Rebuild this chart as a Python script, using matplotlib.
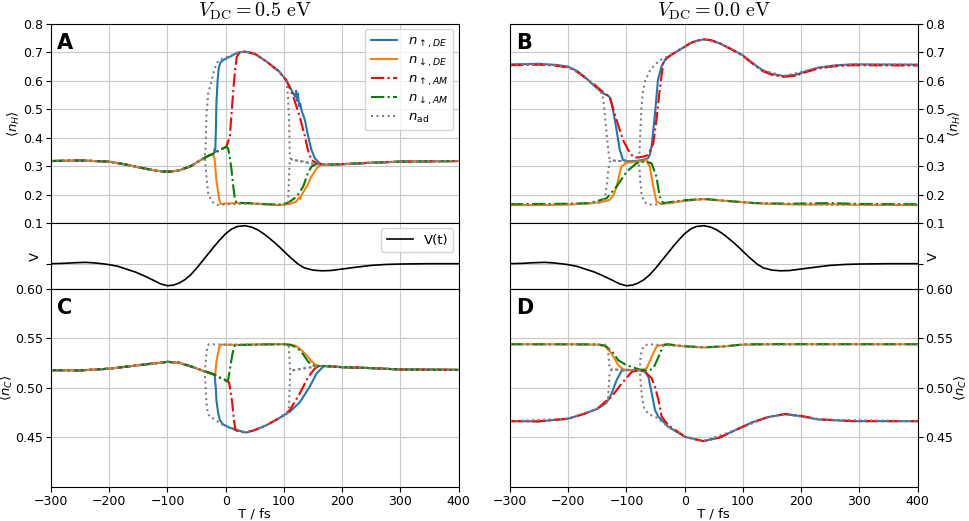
import numpy as np
import matplotlib
matplotlib.use('Agg')
import matplotlib.pyplot as plt

# ---------------- data ----------------
# time axis in fs, values as (T, value) pairs

# panel A : <n_H>, V_DC = 0.5 eV
A_pre = [(-300, 0.318), (-250, 0.320), (-200, 0.316), (-170, 0.305), (-140, 0.292), (-120, 0.284),
         (-100, 0.280), (-80, 0.285), (-60, 0.300), (-40, 0.325), (-30, 0.336)]
A_post = [(170, 0.305), (200, 0.307), (250, 0.312), (300, 0.316), (400, 0.318)]
A_up_DE = A_pre + [(-20, 0.345), (-19, 0.36), (-18, 0.35), (-17, 0.42), (-16, 0.52), (-14, 0.60), (-12, 0.645),
                   (-9, 0.665), (-5, 0.672), (0, 0.678), (10, 0.688), (20, 0.699), (33, 0.703), (50, 0.695),
                   (70, 0.668), (90, 0.637), (100, 0.612), (110, 0.58), (116, 0.555), (119, 0.545), (121, 0.565),
                   (122, 0.53), (124, 0.555), (126, 0.51), (128, 0.52), (130, 0.497), (136, 0.462), (141, 0.41),
                   (147, 0.358), (153, 0.328), (161, 0.31)] + A_post
A_dn_DE = A_pre + [(-22, 0.343), (-19, 0.325), (-16, 0.25), (-11, 0.181), (-9, 0.167), (0, 0.168), (20, 0.170),
                   (40, 0.169), (70, 0.166), (90, 0.163), (100, 0.165), (110, 0.167), (121, 0.175), (126, 0.19),
                   (128, 0.185), (130, 0.198), (139, 0.228), (147, 0.263), (156, 0.292), (164, 0.306)] + A_post
A_up_AM = A_pre + [(-20, 0.345), (-10, 0.357), (1, 0.368), (7, 0.404), (10, 0.486), (13, 0.568), (16, 0.638),
                   (19, 0.685), (24, 0.700), (33, 0.703), (50, 0.695), (70, 0.668), (90, 0.635), (104, 0.603),
                   (116, 0.544), (127, 0.474), (136, 0.404), (141, 0.357), (147, 0.322), (156, 0.310),
                   (165, 0.306)] + A_post
A_dn_AM = A_pre + [(-20, 0.345), (-10, 0.357), (1, 0.368), (4, 0.363), (7, 0.333), (10, 0.286), (13, 0.228),
                   (16, 0.181), (19, 0.171), (40, 0.170), (70, 0.166), (95, 0.165), (105, 0.170), (112, 0.178),
                   (122, 0.193), (133, 0.228), (141, 0.275), (147, 0.298), (156, 0.308), (165, 0.306)] + A_post
A_ad_hi = A_pre[:-1] + [(-36, 0.332), (-34.5, 0.37), (-33, 0.486), (-30, 0.556), (-24, 0.603), (-20, 0.635),
                        (-16, 0.662), (-10, 0.675), (0, 0.682), (10, 0.690), (20, 0.699), (33, 0.703), (50, 0.695),
                        (70, 0.668), (90, 0.636), (100, 0.615), (104, 0.603), (107, 0.544), (109, 0.45),
                        (110, 0.333), (112, 0.325), (116, 0.322), (133, 0.316), (150, 0.308)] + A_post
A_ad_lo = A_pre[:-1] + [(-36, 0.332), (-34.5, 0.30), (-33, 0.26), (-30, 0.204), (-24, 0.175), (-13, 0.163),
                        (0, 0.166), (40, 0.168), (70, 0.165), (95, 0.163), (104, 0.165), (107, 0.172), (108, 0.22),
                        (109, 0.28), (110, 0.32), (112, 0.325), (116, 0.322), (133, 0.316), (150, 0.308)] + A_post

# panel C : <n_C>, V_DC = 0.5 eV
C_pre = [(-300, 0.518), (-250, 0.5178), (-200, 0.5195), (-150, 0.523), (-100, 0.5264), (-80, 0.5255),
         (-57, 0.5213), (-40, 0.5175), (-33, 0.5163)]
C_post = [(170, 0.5222), (200, 0.521), (240, 0.5203), (300, 0.5187), (400, 0.5183)]
C_up_DE = C_pre + [(-19, 0.513), (-17, 0.50), (-16, 0.4877), (-13, 0.475), (-10, 0.4675), (-5, 0.4635),
                   (1, 0.4614), (15, 0.458), (35, 0.455), (50, 0.4575), (70, 0.4624), (93, 0.470), (110, 0.476),
                   (127, 0.4855), (144, 0.5011), (156, 0.5146), (163, 0.519), (167, 0.5213)] + C_post
C_dn_DE = C_pre + [(-19, 0.513), (-18, 0.5146), (-16, 0.5264), (-11, 0.5415), (-7, 0.5439), (20, 0.5435),
                   (60, 0.5440), (100, 0.5442), (112, 0.5437), (121, 0.5425), (130, 0.538), (139, 0.533),
                   (147, 0.527), (156, 0.523), (162, 0.5222)] + C_post
C_up_AM = C_pre + [(-19, 0.5135), (-10, 0.5105), (-4, 0.5096), (1, 0.507), (5.5, 0.506), (8, 0.498),
                   (11.3, 0.4843), (14, 0.4675), (17, 0.4574), (25, 0.4555), (35, 0.455), (50, 0.4575),
                   (70, 0.4624), (93, 0.470), (110, 0.4776), (127, 0.4944), (141.5, 0.5112), (153, 0.5197),
                   (160, 0.5222)] + C_post
C_dn_AM = C_pre + [(-19, 0.5135), (-10, 0.5105), (-4, 0.5096), (1, 0.507), (4, 0.508), (7, 0.518),
                   (11.6, 0.5348), (15.7, 0.5432), (30, 0.5435), (60, 0.5440), (100, 0.5442), (112, 0.5435),
                   (124, 0.540), (133, 0.534), (141, 0.527), (147, 0.5235), (153, 0.5222), (162, 0.5222)] + C_post
C_ad_hi = C_pre[:-1] + [(-36, 0.5165), (-34.5, 0.525), (-33, 0.536), (-31, 0.5425), (-29, 0.5442), (0, 0.5438),
                        (50, 0.5440), (100, 0.5442), (108, 0.5442), (109.5, 0.53), (110.5, 0.518), (116, 0.518),
                        (139, 0.5203), (161, 0.5222)] + C_post
C_ad_lo = C_pre[:-1] + [(-36, 0.5165), (-34.5, 0.50), (-33, 0.485), (-31, 0.475), (-27, 0.4705), (-21, 0.469),
                        (-13, 0.4658), (-8, 0.4635), (1, 0.4614), (35, 0.455), (70, 0.4624), (93, 0.470),
                        (105, 0.4745), (108, 0.476), (109.5, 0.495), (110.5, 0.515), (116, 0.518), (139, 0.5203),
                        (161, 0.5222)] + C_post

# panel B : <n_H>, V_DC = 0.0 eV
B_up_DE = [(-300, 0.658), (-250, 0.660), (-220, 0.656), (-200, 0.650), (-185, 0.635), (-172, 0.615), (-154, 0.58),
           (-140, 0.556), (-131, 0.547), (-128, 0.54), (-125, 0.515), (-123, 0.497), (-117, 0.427),
           (-111.5, 0.357), (-106, 0.322), (-97, 0.317), (-80, 0.319), (-71.5, 0.322), (-63, 0.328), (-60, 0.34),
           (-57, 0.368), (-51.5, 0.474), (-46, 0.603), (-40, 0.65), (-34, 0.673), (-25, 0.69), (-14, 0.703),
           (0, 0.72), (9, 0.732), (20, 0.741), (33, 0.746), (45, 0.743), (60, 0.732), (80, 0.712), (99, 0.691),
           (115, 0.665), (133, 0.638), (150, 0.624), (170, 0.617), (190, 0.621), (210, 0.635), (230, 0.647),
           (260, 0.655), (288, 0.658), (400, 0.657)]
B_up_AM = [(-300, 0.655), (-250, 0.657), (-220, 0.653), (-200, 0.647), (-185, 0.632), (-172, 0.612),
           (-154, 0.585), (-140, 0.56), (-129, 0.544), (-117, 0.462), (-106, 0.392), (-94, 0.345), (-86, 0.330),
           (-72, 0.333), (-63, 0.339), (-54, 0.380), (-48.6, 0.462), (-43, 0.568), (-37, 0.662), (-31.5, 0.68),
           (-14, 0.703), (0, 0.72), (9, 0.732), (20, 0.741), (33, 0.746), (45, 0.743), (60, 0.732), (80, 0.711),
           (99, 0.689), (115, 0.663), (133, 0.635), (150, 0.621), (170, 0.614), (190, 0.618), (210, 0.632),
           (230, 0.644), (260, 0.652), (288, 0.655), (400, 0.654)]
B_dn_DE = [(-300, 0.163), (-250, 0.163), (-200, 0.165), (-163, 0.169), (-140, 0.175), (-129, 0.181),
           (-122, 0.20), (-117, 0.228), (-109, 0.298), (-100, 0.312), (-72, 0.317), (-66, 0.322), (-60, 0.298),
           (-54, 0.228), (-48.6, 0.175), (-40, 0.167), (-20, 0.172), (0, 0.178), (33, 0.184), (70, 0.178),
           (120, 0.170), (150, 0.167), (200, 0.165), (250, 0.166), (300, 0.164), (400, 0.163)]
B_dn_AM = [(-300, 0.166), (-200, 0.168), (-163, 0.170), (-134, 0.187), (-117, 0.228), (-100, 0.28), (-83, 0.31),
           (-69, 0.317), (-57, 0.31), (-48.6, 0.263), (-43, 0.193), (-37, 0.170), (-20, 0.175), (0, 0.18),
           (33, 0.185), (70, 0.178), (120, 0.170), (180, 0.168), (250, 0.170), (300, 0.167), (400, 0.166)]
B_ad_hi = [(-300, 0.658), (-250, 0.660), (-200, 0.650), (-172, 0.615), (-154, 0.58), (-146, 0.565), (-141, 0.55),
           (-138, 0.50), (-134.4, 0.42), (-131.5, 0.36), (-129, 0.325), (-125, 0.320), (-105, 0.317),
           (-80, 0.318), (-77.5, 0.35), (-76, 0.43), (-74.5, 0.50), (-72, 0.56), (-68, 0.60), (-60, 0.635),
           (-50, 0.66), (-40, 0.675), (-30, 0.685), (-14, 0.703), (9, 0.732), (33, 0.746), (60, 0.732),
           (99, 0.691), (133, 0.638), (170, 0.617), (230, 0.647), (288, 0.658), (400, 0.657)]
B_ad_lo = [(-300, 0.163), (-200, 0.165), (-146, 0.172), (-141, 0.178), (-137, 0.19), (-134, 0.23),
           (-131.5, 0.28), (-129, 0.315), (-125, 0.320), (-105, 0.317), (-80, 0.318), (-77.5, 0.29), (-76, 0.24),
           (-74, 0.20), (-70, 0.175), (-62, 0.165), (-50, 0.165), (-40, 0.167), (-20, 0.172), (0, 0.178),
           (33, 0.184), (70, 0.178), (120, 0.170), (200, 0.165), (400, 0.163)]

# panel D : <n_C>, V_DC = 0.0 eV
D_dn_DE = [(-300, 0.5442), (-200, 0.5442), (-150, 0.5438), (-137, 0.5422), (-125.6, 0.5348), (-114, 0.523),
           (-105.5, 0.5187), (-90, 0.518), (-74, 0.518), (-65.4, 0.520), (-56.8, 0.5314), (-48.2, 0.5422),
           (-34, 0.5442), (0, 0.542), (33, 0.5409), (70, 0.542), (100, 0.5438), (150, 0.5442), (400, 0.5442)]
D_dn_AM = [(-300, 0.5442), (-150, 0.5440), (-137, 0.543), (-125, 0.537), (-114, 0.528), (-100, 0.523),
           (-91, 0.5213), (-79.5, 0.519), (-62.3, 0.5173), (-53.7, 0.520), (-45, 0.5315), (-36.6, 0.543),
           (-30, 0.5442), (0, 0.5422), (33, 0.5411), (70, 0.5422), (100, 0.544), (150, 0.5443), (400, 0.5442)]
D_up_DE = [(-300, 0.4665), (-250, 0.4663), (-200, 0.469), (-172, 0.474), (-150, 0.479), (-137, 0.484),
           (-130, 0.489), (-125.5, 0.4944), (-117, 0.5079), (-108.4, 0.5173), (-102.6, 0.518), (-74, 0.518),
           (-68, 0.516), (-62.3, 0.5112), (-56.6, 0.4944), (-51, 0.4776), (-45, 0.4708), (-28, 0.4607),
           (0.5, 0.4506), (32, 0.4463), (60, 0.450), (86.7, 0.4574), (115, 0.465), (144, 0.4708),
           (172.5, 0.4735), (200, 0.4715), (230, 0.4681), (290, 0.4665), (400, 0.4665)]
D_up_AM = [(-300, 0.4665), (-250, 0.4663), (-200, 0.469), (-172, 0.474), (-150, 0.479), (-137, 0.4859),
           (-125.6, 0.4911), (-108.4, 0.5045), (-91, 0.5163), (-79.5, 0.518), (-68, 0.5163), (-57, 0.510),
           (-51, 0.5011), (-45, 0.4876), (-39.5, 0.4708), (-28, 0.4624), (0.5, 0.4506), (32, 0.4463),
           (60, 0.450), (86.7, 0.4574), (115, 0.465), (144, 0.4708), (172.5, 0.4738), (200, 0.4718),
           (230, 0.4684), (290, 0.4665), (400, 0.4665)]
D_ad_hi = [(-300, 0.5442), (-150, 0.5440), (-135, 0.5435), (-132, 0.540), (-130.5, 0.53), (-129, 0.52),
           (-126, 0.5187), (-80, 0.518), (-77, 0.519), (-76, 0.53), (-74, 0.538), (-70, 0.5425), (-63, 0.5442),
           (0, 0.542), (33, 0.5409), (70, 0.542), (100, 0.5438), (400, 0.5442)]
D_ad_lo = [(-300, 0.4665), (-200, 0.469), (-150, 0.479), (-135, 0.484), (-132, 0.4877), (-130.5, 0.50),
           (-129, 0.515), (-126, 0.5187), (-80, 0.518), (-77, 0.517), (-75, 0.50), (-73, 0.49), (-70, 0.48),
           (-62, 0.4735), (-50, 0.4708), (-28, 0.4607), (0.5, 0.4506), (32, 0.4463), (86.7, 0.4574),
           (144, 0.4708), (172.5, 0.4735), (230, 0.4681), (400, 0.4665)]

# driving pulse V(t) (arbitrary units, same in both columns)
V_t = [-300, -280, -260, -240, -225, -210, -200, -185, -170, -155, -140, -125, -112, -100, -90, -80, -70, -60,
       -50, -40, -30, -20, -10, 0, 10, 20, 33, 45, 55, 65, 75, 85, 95, 105, 115, 125, 135, 150, 165, 180, 200,
       225, 250, 275, 300, 350, 400]
V_val = [0, 0.008, 0.025, 0.035, 0.02, -0.005, -0.026, -0.07, -0.145, -0.22, -0.32, -0.43, -0.53, -0.58,
         -0.565, -0.51, -0.42, -0.29, -0.12, 0.07, 0.26, 0.45, 0.63, 0.79, 0.91, 0.98, 1.0, 0.96, 0.89, 0.79,
         0.67, 0.54, 0.40, 0.25, 0.11, -0.02, -0.11, -0.17, -0.187, -0.18, -0.14, -0.09, -0.044, -0.02, -0.009,
         0, 0]

labels = [r'$n_{\uparrow,DE}$', r'$n_{\downarrow,DE}$', r'$n_{\uparrow,AM}$', r'$n_{\downarrow,AM}$',
          r'$n_{\mathrm{ad}}$']
titles = [r'$V_{\mathrm{DC}} = 0.5\ \mathrm{eV}$', r'$V_{\mathrm{DC}} = 0.0\ \mathrm{eV}$']
x_ticks = [-300, -200, -100, 0, 100, 200, 300, 400]

# ---------------- figure ----------------
fig = plt.figure(figsize=(9.69, 5.21), dpi=100)
gs = fig.add_gridspec(3, 2, height_ratios=[199, 66, 198], left=0.0526, right=0.9471,
                      top=0.9539, bottom=0.0653, hspace=0, wspace=0.1257)

styles = [dict(color='#1f77b4', ls='-'), dict(color='#ff7f0e', ls='-'),
          dict(color='red', ls='-.'), dict(color='green', ls='-.'),
          dict(color='gray', ls=':')]


def draw(ax, curves, ad_lo, legend=False):
    # curves: up_DE, dn_DE, up_AM, dn_AM, ad_hi
    for data, st, lab in zip(curves, styles, labels):
        t, v = np.array(data).T
        ax.plot(t, v, lw=1.5, label=lab, **st)
    t, v = np.array(ad_lo).T
    ax.plot(t, v, lw=1.5, **styles[4])
    if legend:
        ax.legend(loc='upper right', fontsize=9.5, labelspacing=0.3, borderaxespad=0.4)


panels = [
    ([A_up_DE, A_dn_DE, A_up_AM, A_dn_AM, A_ad_hi], A_ad_lo,
     [C_up_DE, C_dn_DE, C_up_AM, C_dn_AM, C_ad_hi], C_ad_lo),
    ([B_up_DE, B_dn_DE, B_up_AM, B_dn_AM, B_ad_hi], B_ad_lo,
     [D_up_DE, D_dn_DE, D_up_AM, D_dn_AM, D_ad_hi], D_ad_lo),
]
letters = [('A', 'C'), ('B', 'D')]

for col in range(2):
    ax_h = fig.add_subplot(gs[0, col])
    ax_v = fig.add_subplot(gs[1, col], sharex=ax_h)
    ax_c = fig.add_subplot(gs[2, col], sharex=ax_h)
    h_curves, h_lo, c_curves, c_lo = panels[col]

    draw(ax_h, h_curves, h_lo, legend=(col == 0))
    ax_v.plot(V_t, V_val, color='black', lw=1.2, label='V(t)')
    if col == 0:
        ax_v.legend(loc='upper right', fontsize=9.5, borderaxespad=0.4)
    draw(ax_c, c_curves, c_lo)

    ax_h.set_ylim(0.1, 0.8)
    ax_h.set_yticks([0.1, 0.2, 0.3, 0.4, 0.5, 0.6, 0.7, 0.8])
    ax_v.set_ylim(-0.666, 1.071)
    ax_v.set_yticks([0])
    ax_v.set_yticklabels([''])
    ax_c.set_ylim(0.40, 0.60)
    ax_c.set_yticks([0.45, 0.50, 0.55, 0.60])
    ax_c.set_xlim(-300, 400)
    ax_c.set_xticks(x_ticks)

    ax_h.set_ylabel(r'$\langle n_H\rangle$', fontsize=9.5, labelpad=1)
    ax_v.set_ylabel('V', fontsize=9.5, labelpad=1)
    ax_c.set_ylabel(r'$\langle n_C\rangle$', fontsize=9.5, labelpad=0)
    ax_c.set_xlabel('T / fs', fontsize=9.5, labelpad=0)
    ax_h.set_title(titles[col], fontsize=14.5, math_fontfamily='cm', pad=5)

    for ax in (ax_h, ax_v, ax_c):
        ax.grid(True, color='#c8c8c8', lw=0.8)
        ax.tick_params(labelsize=9, pad=2)
        if col == 1:
            ax.yaxis.tick_right()
            ax.yaxis.set_label_position('right')
    for ax in (ax_h, ax_v):
        ax.tick_params(labelbottom=False)

    ax_h.text(0.015, 0.955, letters[col][0], transform=ax_h.transAxes, fontsize=15,
              fontweight='bold', va='top', ha='left')
    ax_c.text(0.015, 0.955, letters[col][1], transform=ax_c.transAxes, fontsize=15,
              fontweight='bold', va='top', ha='left')

fig.savefig('out.png', dpi=100)
